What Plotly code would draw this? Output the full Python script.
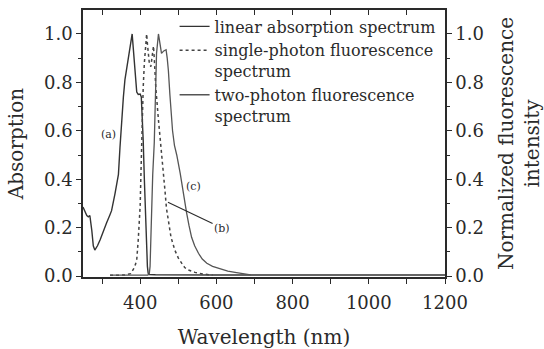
import plotly.graph_objects as go

# ---------------- data ----------------
abs_wl = [250, 255, 260, 264, 268, 273, 277, 281, 288, 295, 303, 312, 320, 325, 334, 343,
          347, 351, 356, 360, 365, 369, 374, 379, 383, 387, 391, 395, 400, 403, 405, 408,
          411, 413, 415, 417, 419, 421, 424, 440, 600, 1200]
abs_val = [0.285, 0.265, 0.25, 0.245, 0.25, 0.19, 0.125, 0.107, 0.125, 0.15, 0.185, 0.22,
           0.25, 0.27, 0.34, 0.42, 0.53, 0.645, 0.74, 0.81, 0.86, 0.906, 0.95, 1.0, 0.92,
           0.82, 0.76, 0.75, 0.752, 0.74, 0.68, 0.56, 0.40, 0.29, 0.18, 0.094, 0.04, 0.012,
           0.006, 0.005, 0.004, 0.004]

spf_wl = [321, 360, 375, 382, 387, 391, 395, 398, 400, 402, 404, 406, 408, 411, 414, 417,
          419, 421, 424, 428, 431, 435, 437, 441, 448, 452, 456, 460, 465, 469, 474, 481,
          491, 500, 509, 517, 526, 544, 566, 590]
spf_val = [0.003, 0.004, 0.01, 0.027, 0.045, 0.066, 0.15, 0.22, 0.29, 0.42, 0.56, 0.64,
           0.78, 0.88, 0.96, 1.0, 0.96, 0.92, 0.88, 0.865, 0.90, 0.95, 0.90, 0.78, 0.645,
           0.58, 0.53, 0.44, 0.355, 0.28, 0.22, 0.16, 0.107, 0.075, 0.053, 0.035, 0.025,
           0.015, 0.008, 0.004]

tpf_wl = [321, 400, 420, 424, 426, 428, 430, 433, 437, 441, 443, 448, 452, 456, 462, 468,
          471, 474, 478, 485, 490, 496, 505, 512, 518, 522, 528, 535, 543, 553, 563, 575,
          590, 610, 630, 653, 675, 690]
tpf_val = [0.004, 0.004, 0.004, 0.01, 0.04, 0.15, 0.29, 0.42, 0.55, 0.78, 0.92, 1.0, 0.95,
           0.92, 0.93, 0.935, 0.90, 0.85, 0.75, 0.60, 0.54, 0.50, 0.425, 0.35, 0.29, 0.26,
           0.21, 0.16, 0.125, 0.094, 0.07, 0.053, 0.04, 0.03, 0.02, 0.014, 0.008, 0.005]

x_ticks = [300, 400, 500, 600, 700, 800, 900, 1000, 1100, 1200]
x_ticklabels = ["", "400", "", "600", "", "800", "", "1000", "", "1200"]
y_ticks = [0.0, 0.2, 0.4, 0.6, 0.8, 1.0]
y_ticklabels = ["0.0", "0.2", "0.4", "0.6", "0.8", "1.0"]

names = ["linear absorption spectrum",
         "single-photon fluorescence<br>spectrum",
         "two-photon fluorescence<br>spectrum"]

# ---------------- figure ----------------
FONT = "DejaVu Serif"
INK = "#2a2a2a"

fig = go.Figure()
fig.add_trace(go.Scatter(x=abs_wl, y=abs_val, mode="lines", name=names[0],
                         line=dict(color="#333333", width=1.4)))
fig.add_trace(go.Scatter(x=spf_wl, y=spf_val, mode="lines", name=names[1],
                         line=dict(color="#444444", width=1.5, dash="dot")))
fig.add_trace(go.Scatter(x=tpf_wl, y=tpf_val, mode="lines", name=names[2],
                         line=dict(color="#555555", width=1.3)))

xr = [250, 1200]
yr = [-0.004, 1.099]

fig.update_layout(
    width=544, height=349,
    margin=dict(l=83, r=99, t=10, b=72, autoexpand=False),
    paper_bgcolor="white", plot_bgcolor="white",
    font=dict(family=FONT, color=INK),
    showlegend=True,
    legend=dict(x=0.253, y=1.002, xanchor="left", yanchor="top",
                bgcolor="rgba(0,0,0,0)", borderwidth=0,
                font=dict(family=FONT, size=16, color=INK),
                tracegroupgap=0, valign="top", itemwidth=30),
    xaxis=dict(range=xr, tickvals=x_ticks, ticktext=x_ticklabels, automargin=False,
               ticks="outside", ticklen=5, tickwidth=1.2, tickcolor=INK,
               showline=True, linecolor=INK, linewidth=1.5,
               showgrid=False, zeroline=False, ticklabelstandoff=4,
               tickfont=dict(family=FONT, size=18, color=INK),
               title=dict(text="Wavelength (nm)", font=dict(family=FONT, size=20, color=INK),
                          standoff=18)),
    xaxis2=dict(range=xr, overlaying="x", side="top", anchor="y", automargin=False,
                tickvals=x_ticks, showticklabels=False,
                ticks="inside", ticklen=5, tickwidth=1.2, tickcolor=INK,
                showline=True, linecolor=INK, linewidth=1.5,
                showgrid=False, zeroline=False),
    yaxis=dict(range=yr, tickvals=y_ticks, ticktext=y_ticklabels, automargin=False,
               ticks="outside", ticklen=5, tickwidth=1.2, tickcolor=INK,
               minor=dict(dtick=0.1, ticks="outside", ticklen=3, tickcolor=INK, showgrid=False),
               showline=True, linecolor=INK, linewidth=1.5,
               showgrid=False, zeroline=False,
               tickfont=dict(family=FONT, size=18, color=INK),
               title=dict(text="Absorption", font=dict(family=FONT, size=20, color=INK),
                          standoff=15)),
    yaxis2=dict(range=yr, overlaying="y", side="right", anchor="x", automargin=False,
                tickvals=y_ticks, ticktext=y_ticklabels,
                ticks="outside", ticklen=5, tickwidth=1.2, tickcolor=INK,
                minor=dict(dtick=0.1, ticks="outside", ticklen=3, tickcolor=INK, showgrid=False),
                showline=True, linecolor=INK, linewidth=1.5,
                showgrid=False, zeroline=False,
                tickfont=dict(family=FONT, size=18, color=INK),
                title=dict(text="Normalized fluorescence<br>intensity",
                           font=dict(family=FONT, size=20, color=INK), standoff=25)),
)

# invisible trace to activate top / right axes
fig.add_trace(go.Scatter(x=[None], y=[None], xaxis="x2", yaxis="y2", showlegend=False,
                         hoverinfo="skip"))

lab_font = dict(family=FONT, size=11, color=INK)
fig.add_annotation(x=316, y=0.583, text="(a)", showarrow=False, font=lab_font,
                   xref="x", yref="y")
fig.add_annotation(x=539, y=0.368, text="(c)", showarrow=False, font=lab_font,
                   xref="x", yref="y")
fig.add_annotation(x=473, y=0.305, ax=615, ay=0.198, axref="x", ayref="y",
                   text="(b)", showarrow=True, arrowhead=0, arrowwidth=1.1,
                   arrowcolor=INK, font=lab_font, xref="x", yref="y", standoff=0)

fig.write_html("out.html")
